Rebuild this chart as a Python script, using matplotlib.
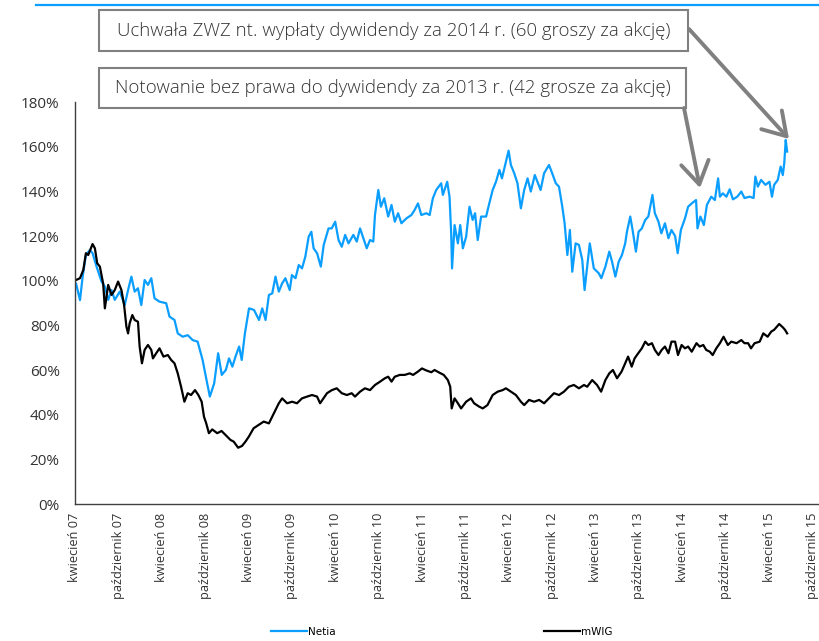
import matplotlib
matplotlib.use("Agg")
import matplotlib.pyplot as plt
from matplotlib.patches import Rectangle, FancyArrowPatch
from matplotlib.lines import Line2D

plt.rcParams['font.family'] = ['Open Sans', 'DejaVu Sans']

# months counted from April 2007
netia_m = [0.0, 0.14, 0.69, 1.06, 1.51, 2.06, 2.43, 2.98, 3.67, 4.13, 4.59, 5.05, 5.5, 6.19, 6.88,
           7.34, 7.8, 8.25, 8.71, 9.17, 9.63, 10.09, 10.55, 11.0, 11.69, 12.61, 13.07, 13.76, 14.21,
           14.9, 15.59, 16.27, 16.96, 17.65, 18.1, 18.65, 19.25, 19.8, 20.3, 20.86, 21.3, 21.77, 22.2,
           22.7, 23.06, 23.5, 24.07, 24.76, 25.45, 25.9, 26.36, 26.82, 27.28, 27.73, 28.19, 28.65, 29.1,
           29.7, 30.0, 30.5, 30.95, 31.4, 31.86, 32.32, 32.69, 33.0, 33.48, 34.0, 34.4, 35.07, 35.5,
           35.99, 36.45, 36.9, 37.37, 37.83, 38.5, 38.97, 39.43, 39.89, 40.35, 40.8, 41.26, 41.49, 41.95,
           42.31, 42.77, 43.32, 43.78, 44.23, 44.69, 45.15, 45.84, 46.53, 46.98, 47.44, 47.9, 48.59, 49.05,
           49.5, 49.96, 50.65, 50.88, 51.48, 51.8, 52.03, 52.15, 52.5, 52.96, 53.28, 53.65, 54.1, 54.56,
           55.0, 55.34, 55.7, 56.17, 56.86, 57.3, 57.77, 58.23, 58.7, 59.05, 59.6, 59.97, 60.29, 60.75,
           61.2, 61.67, 62.13, 62.6, 63.04, 63.6, 63.96, 64.4, 64.88, 65.56, 66.0, 66.5, 66.94, 67.4,
           67.72, 68.1, 68.45, 68.78, 69.24, 69.7, 70.16, 70.48, 70.84, 71.2, 71.76, 72.45, 72.8, 73.36,
           73.9, 74.28, 74.74, 75.2, 75.65, 76.1, 76.34, 76.8, 77.16, 77.58, 77.95, 78.4, 78.87, 79.3,
           79.87, 80.2, 80.7, 81.1, 81.6, 82.08, 82.5, 83.0, 83.36, 83.8, 84.37, 84.8, 85.3, 85.9,
           86.1, 86.5, 86.98, 87.4, 88.0, 88.5, 88.95, 89.2, 89.6, 90.1, 90.55, 91.0, 91.6, 92.16,
           92.6, 93.3, 93.86, 94.1, 94.45, 94.9, 95.5, 96.05, 96.4, 96.7, 97.2, 97.6, 97.9, 98.1,
           98.3, 98.5]
netia_v = [98.0, 98.8, 91.3, 101.8, 111.5, 113.7, 112.3, 106.3, 99.6, 97.3, 91.4, 95.8, 91.4, 95.1, 89.1,
           95.8, 101.8, 95.1, 96.6, 89.1, 100.3, 98.1, 101.1, 92.1, 90.6, 89.9, 83.9, 82.4, 76.4,
           74.9, 75.6, 73.4, 72.7, 64.5, 57.0, 48.1, 54.0, 67.5, 57.8, 60.0, 65.2, 61.5, 66.0,
           70.5, 64.5, 76.4, 87.6, 86.9, 82.4, 87.6, 82.4, 93.6, 94.3, 101.8, 95.1, 98.8, 101.1,
           95.8, 102.5, 101.1, 107.0, 105.5, 110.8, 119.7, 121.9, 114.5, 112.3, 106.3, 116.0, 123.4, 123.4,
           126.4, 118.2, 115.2, 120.5, 116.7, 120.5, 117.5, 123.4, 119.0, 114.5, 118.2, 117.5, 129.4, 140.6,
           133.1, 136.9, 128.7, 133.9, 126.4, 130.2, 125.7, 127.9, 129.4, 131.7, 134.6, 129.4, 130.2, 129.4,
           136.9, 140.6, 143.6, 138.4, 144.3, 137.6, 121.2, 105.5, 124.9, 116.7, 124.9, 114.5, 119.7, 133.1,
           127.2, 130.2, 118.2, 128.7, 128.7, 134.6, 140.6, 144.3, 149.6, 145.8, 153.3, 158.2, 151.8, 148.1,
           143.6, 132.4, 140.6, 145.8, 139.9, 147.3, 144.3, 140.6, 148.1, 151.8, 148.1, 143.6, 142.1, 133.1,
           125.7, 111.5, 122.7, 104.0, 116.7, 116.0, 109.3, 95.8, 106.3, 116.7, 105.5, 103.3, 101.1, 106.3,
           113.0, 108.5, 101.8, 108.5, 111.5, 116.7, 121.9, 128.7, 121.9, 113.0, 121.9, 123.4, 127.2, 128.7,
           138.4, 130.2, 126.4, 121.2, 125.7, 119.0, 122.7, 120.0, 112.3, 122.7, 127.9, 133.1, 134.6, 136.1,
           123.4, 128.7, 124.9, 133.9, 137.6, 136.1, 145.8, 137.6, 139.1, 137.6, 140.9, 136.4, 137.6, 139.9,
           137.0, 137.6, 137.0, 146.6, 142.1, 145.1, 142.9, 144.3, 137.6, 142.9, 145.1, 151.1, 147.3, 152.6,
           163.0, 157.8]

mwig_m = [0.0, 0.14, 0.69, 1.15, 1.51, 1.83, 2.43, 2.75, 3.07, 3.44, 3.9, 4.13, 4.59, 5.05, 5.5,
          5.96, 6.42, 6.79, 7.11, 7.34, 7.56, 7.93, 8.25, 8.71, 8.94, 9.26, 9.63, 10.09, 10.55,
          10.78, 11.23, 11.69, 12.24, 12.84, 13.3, 13.76, 14.21, 14.67, 15.13, 15.59, 16.05, 16.6, 17.06,
          17.52, 17.84, 18.15, 18.52, 18.98, 19.67, 20.27, 20.82, 21.5, 21.96, 22.56, 23.1, 23.57, 24.03,
          24.7, 25.39, 26.1, 26.82, 27.5, 28.19, 28.65, 29.34, 30.03, 30.7, 31.4, 32.1, 32.78, 33.48,
          33.9, 34.85, 35.53, 36.2, 36.9, 37.6, 38.27, 38.73, 39.43, 40.1, 40.8, 41.5, 42.2, 42.86,
          43.32, 43.78, 44.23, 44.92, 45.6, 46.3, 46.76, 47.44, 47.99, 48.59, 49.28, 49.73, 50.4, 51.0,
          51.57, 51.9, 52.1, 52.5, 52.96, 53.4, 54.1, 54.77, 55.2, 55.9, 56.4, 57.05, 57.77, 58.46,
          59.15, 59.6, 60.29, 60.98, 61.67, 62.13, 62.8, 63.5, 64.2, 64.88, 65.56, 66.25, 66.94, 67.63,
          68.3, 69.0, 69.7, 70.4, 70.84, 71.53, 72.2, 72.77, 73.36, 73.9, 74.4, 74.97, 75.6, 76.1,
          76.5, 77.0, 77.4, 77.9, 78.4, 78.87, 79.3, 79.8, 80.2, 80.7, 81.15, 81.6, 82.08, 82.5,
          83.0, 83.4, 83.9, 84.37, 84.8, 85.3, 85.96, 86.4, 86.9, 87.3, 87.8, 88.2, 88.7, 89.2,
          89.7, 90.3, 90.77, 91.5, 92.16, 92.6, 93.1, 93.5, 94.0, 94.7, 95.2, 95.8, 96.3, 96.7,
          97.4, 97.9, 98.2, 98.5]
mwig_v = [100.0, 100.3, 101.1, 104.8, 112.3, 111.5, 116.4, 114.5, 107.8, 106.3, 98.6, 87.6, 98.1, 93.6, 95.8,
          99.6, 95.8, 89.1, 79.4, 76.4, 80.9, 84.6, 82.4, 81.6, 70.5, 63.0, 69.0, 71.2, 69.0,
          65.2, 67.5, 69.7, 66.0, 66.7, 64.5, 63.0, 58.5, 52.5, 45.8, 49.6, 48.8, 51.0, 48.8,
          45.8, 39.1, 36.1, 31.7, 33.4, 31.7, 32.7, 30.9, 28.7, 27.9, 25.2, 26.0, 27.9, 30.1,
          33.9, 35.4, 36.9, 36.1, 40.6, 45.1, 47.3, 45.1, 45.8, 45.1, 47.3, 48.1, 48.8, 48.1,
          45.1, 49.6, 51.0, 51.8, 49.6, 48.8, 49.6, 48.1, 50.3, 51.8, 51.0, 53.3, 54.8, 56.3,
          57.0, 54.8, 57.0, 57.8, 57.8, 58.5, 57.8, 59.3, 60.7, 59.8, 59.0, 60.0, 58.8, 57.8,
          55.5, 52.5, 42.8, 47.3, 45.1, 42.8, 45.8, 47.3, 45.1, 43.6, 42.8, 44.3, 48.8, 50.3,
          51.0, 51.8, 50.3, 48.8, 45.8, 44.3, 46.6, 45.8, 46.6, 45.1, 47.3, 49.6, 48.8, 50.3,
          52.5, 53.3, 51.8, 53.3, 52.5, 55.5, 53.3, 50.3, 55.5, 58.5, 60.0, 56.3, 59.3, 63.0,
          66.0, 61.5, 65.2, 67.5, 69.7, 72.7, 71.2, 72.0, 69.0, 66.7, 69.0, 70.5, 67.5, 72.7,
          72.7, 66.7, 71.2, 69.7, 70.5, 68.2, 72.0, 70.5, 71.2, 69.0, 68.2, 66.7, 69.7, 72.0,
          74.9, 71.2, 72.7, 72.0, 73.4, 72.0, 72.0, 69.7, 72.0, 72.7, 76.4, 74.9, 77.2, 78.0,
          80.6, 79.1, 78.0, 76.4]

tick_labels = ['kwiecień 07', 'październik 07', 'kwiecień 08', 'październik 08', 'kwiecień 09',
               'październik 09', 'kwiecień 10', 'październik 10', 'kwiecień 11', 'październik 11',
               'kwiecień 12', 'październik 12', 'kwiecień 13', 'październik 13', 'kwiecień 14',
               'październik 14', 'kwiecień 15', 'październik 15']
y_ticks = [0, 20, 40, 60, 80, 100, 120, 140, 160, 180]

note_2014 = 'Uchwała ZWZ nt. wypłaty dywidendy za 2014 r. (60 groszy za akcję)'
note_2013 = 'Notowanie bez prawa do dywidendy za 2013 r. (42 grosze za akcję)'

blue = '#0A9EFF'
grey = '#808080'
W, H = 820, 641


def fx(x):
    return x / W


def fy(y):
    return 1 - y / H


fig = plt.figure(figsize=(8.2, 6.41), dpi=100)
# 7.23 px per month, axis runs on past the right edge like the original
ax = fig.add_axes([fx(75), fy(504), 104 * 7.23 / W, (504 - 102) / H])

ax.plot(netia_m, netia_v, color=blue, lw=1.6, label='Netia')
ax.plot(mwig_m, mwig_v, color='black', lw=1.6, label='mWIG')

ax.set_xlim(0, 104)
ax.set_ylim(0, 180)
ax.set_yticks(y_ticks)
ax.set_yticklabels(['%d%%' % t for t in y_ticks], fontsize=11, color='#333333')
ax.set_xticks([6 * i for i in range(len(tick_labels))])
ax.set_xticklabels(tick_labels, rotation=90, fontsize=9.2, color='#333333', va='top', ha='center')
ax.tick_params(axis='y', length=0, pad=11)
ax.tick_params(axis='x', length=0, pad=6)
for s in ['top', 'right']:
    ax.spines[s].set_visible(False)
for s in ['left', 'bottom']:
    ax.spines[s].set_color('#404040')
    ax.spines[s].set_linewidth(1)

# header rule
fig.add_artist(Line2D([fx(36), 1], [fy(5), fy(5)], color=blue, lw=1.6, transform=fig.transFigure))

# annotation boxes
for (x0, x1, y0, y1, txt) in [(99, 688, 10, 51, note_2014), (99, 686, 68, 108, note_2013)]:
    fig.add_artist(Rectangle((fx(x0), fy(y1)), fx(x1 - x0), (y1 - y0) / H, facecolor='white',
                             edgecolor=grey, lw=1.5, transform=fig.transFigure, zorder=5))
    fig.text(fx((x0 + x1) / 2), fy((y0 + y1) / 2), txt, ha='center', va='center',
             fontsize=13.4, fontweight='light', color='#333333', zorder=6)

for (a, b) in [((689, 29), (789, 139)), ((684, 108), (700, 188))]:
    fig.add_artist(FancyArrowPatch((fx(a[0]), fy(a[1])), (fx(b[0]), fy(b[1])),
                                   arrowstyle='->,head_length=0.8,head_width=0.5', mutation_scale=20,
                                   color=grey, lw=2.8, shrinkA=0, shrinkB=0,
                                   transform=fig.transFigure, zorder=6))

fig.legend(loc='center', bbox_to_anchor=(fx(442), fy(632)), ncol=2, frameon=False,
           handlelength=3.4, handletextpad=0.15, columnspacing=20,
           prop={'family': ['Liberation Sans Narrow', 'DejaVu Sans'], 'size': 7.5})

fig.savefig('out.png', dpi=100)
